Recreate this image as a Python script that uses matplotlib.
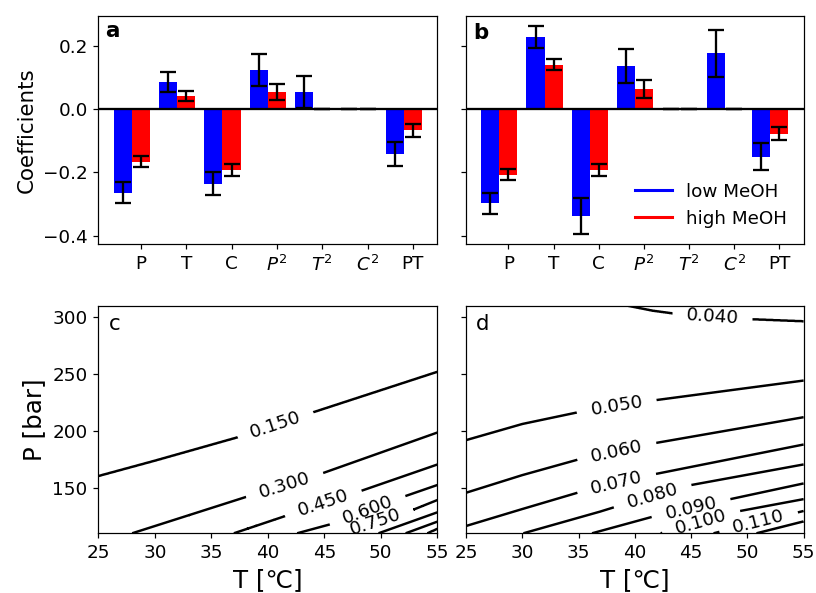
import numpy as np
import matplotlib
matplotlib.use('Agg')
import matplotlib.pyplot as plt
from matplotlib.lines import Line2D

# ---------------- bar chart data ----------------
terms = ['P', 'T', 'C', '$P^2$', '$T^2$', '$C^2$', 'PT']

a_low = [-0.264, 0.085, -0.236, 0.123, 0.054, 0.0, -0.141]
a_low_err = [0.032, 0.032, 0.037, 0.051, 0.050, 0.0, 0.038]
a_high = [-0.166, 0.041, -0.193, 0.054, 0.0, 0.0, -0.068]
a_high_err = [0.016, 0.016, 0.018, 0.026, 0.0, 0.0, 0.019]

b_low = [-0.298, 0.227, -0.337, 0.136, 0.0, 0.175, -0.151]
b_low_err = [0.034, 0.034, 0.057, 0.054, 0.0, 0.074, 0.042]
b_high = [-0.207, 0.139, -0.193, 0.063, 0.0, 0.0, -0.078]
b_high_err = [0.017, 0.017, 0.018, 0.027, 0.0, 0.0, 0.020]

series_labels = ['low MeOH', 'high MeOH']

# ---------------- contour data (level lines) ----------------
# each level: temperatures [degC] and pressures [bar] along the line
c_levels = [0.15, 0.30, 0.45, 0.60, 0.75, 0.90, 1.05, 1.20]
c_T = [
    [25, 30, 37.2, 44, 55],
    [25, 28, 38.1, 44.8, 55],
    [25, 37, 41.8, 48.3, 55],
    [25, 42.6, 45.5, 52, 55],
    [25, 46.5, 52.8, 55],
    [25, 49.8, 55],
    [25, 52.2, 55],
    [25, 54.1, 55],
]
c_P = [
    [160.2, 173.7, 193.9, 216.2, 251.8],
    [100, 110, 142, 162.6, 198.5],
    [70, 110, 126, 147.4, 170.4],
    [55, 110, 117.8, 142.1, 152.4],
    [40, 110, 130.4, 139.2],
    [25, 110, 128.4],
    [10, 110, 120.2],
    [-10, 110, 114],
]

d_levels = [0.04, 0.05, 0.06, 0.07, 0.08, 0.09, 0.10, 0.11, 0.12]
d_T = [
    [25, 35, 39.3, 41.6, 44, 50.4, 55],
    [25, 30, 34.8, 41.8, 55],
    [25, 30, 35, 41.6, 55],
    [25, 30, 35, 41.8, 55],
    [25, 30.1, 36.9, 38.3, 45, 55],
    [25, 36.2, 41.6, 48.4, 55],
    [25, 42.3, 49.3, 55],
    [25, 47.0, 55],
    [25, 50.8, 55],
]
d_P = [
    [380, 325, 310, 305.5, 302.3, 298, 296.2],
    [191.8, 206.0, 216, 226.9, 244.2],
    [145.6, 161.1, 174.9, 188.9, 212],
    [116.4, 131.3, 145.9, 162, 188],
    [95, 110, 129, 133.3, 152.4, 170.5],
    [80, 110, 124.6, 139.8, 153.8],
    [62, 110, 129.5, 140],
    [50, 110, 129.6],
    [40, 110, 120.5],
]


def build_field(levels, Ts, Ps, Tg, Pg):
    lv = np.asarray(levels, dtype=float)
    step = lv[1] - lv[0]
    cross = np.array([np.interp(Tg, t, p) for t, p in zip(Ts, Ps)])
    Z = np.empty((len(Pg), len(Tg)))
    for j in range(len(Tg)):
        pc = cross[:, j]
        order = np.argsort(pc)
        xp = np.concatenate([[-2000.0], pc[order], [2000.0]])
        fp = np.concatenate([[lv.max() + step * 20], lv[order], [lv.min() - step]])
        Z[:, j] = np.interp(Pg, xp, fp)
    return Z


T_grid = np.linspace(25, 55, 601)
P_grid = np.linspace(110, 310, 801)
Zc = build_field(c_levels, c_T, c_P, T_grid, P_grid)
Zd = build_field(d_levels, d_T, d_P, T_grid, P_grid)

# ---------------- figure ----------------
DPI = 110
fig = plt.figure(figsize=(816 / DPI, 593 / DPI), dpi=DPI)

ax_a = fig.add_axes([0.1205, 0.588, 0.4154, 0.3855])
ax_b = fig.add_axes([0.5711, 0.588, 0.4137, 0.3855], sharey=ax_a)
ax_c = fig.add_axes([0.1205, 0.1007, 0.4154, 0.3838])
ax_d = fig.add_axes([0.5711, 0.1007, 0.4137, 0.3838], sharey=ax_c)

blue = '#0000ff'
red = '#ff0000'
w = 0.4
x = np.arange(len(terms))


def bar_panel(ax, low, low_err, high, high_err):
    ax.bar(x - w, low, width=w, color=blue)
    ax.errorbar(x - w, low, yerr=low_err, fmt='none', ecolor='k',
                elinewidth=1.5, capsize=5, capthick=1.5)
    ax.bar(x, high, width=w, color=red)
    ax.errorbar(x, high, yerr=high_err, fmt='none', ecolor='k',
                elinewidth=1.5, capsize=5, capthick=1.5)
    ax.axhline(0, color='k', lw=1.5)
    ax.set_xticks(x)
    ax.set_xticklabels(terms)
    ax.tick_params(labelsize=12)


bar_panel(ax_a, a_low, a_low_err, a_high, a_high_err)
bar_panel(ax_b, b_low, b_low_err, b_high, b_high_err)
ax_a.set_ylim(-0.427, 0.294)
ax_a.set_yticks([-0.4, -0.2, 0.0, 0.2])
ax_a.set_ylabel('Coefficients', fontsize=14)
plt.setp(ax_b.get_yticklabels(), visible=False)

handles = [Line2D([0], [0], color=blue, lw=2), Line2D([0], [0], color=red, lw=2)]
ax_b.legend(handles, series_labels, loc='lower right', frameon=False, fontsize=12)

ax_a.text(0.02, 0.907, 'a', transform=ax_a.transAxes, fontsize=14,
          fontweight='bold', va='baseline')
ax_b.text(0.02, 0.9, 'b', transform=ax_b.transAxes, fontsize=14,
          fontweight='bold', va='baseline')

# contours
c_label_pos = [(40.7, 205), (41.5, 152), (44.9, 136.5), (48.8, 131), (49.5, 120)]
d_label_pos = [(46.9, 299), (38.4, 221.0), (38.4, 182), (38.4, 153.5),
               (41.6, 142), (45.0, 132), (45.9, 120), (51.0, 120)]

cs_c = ax_c.contour(T_grid, P_grid, Zc, levels=c_levels, colors='k', linewidths=1.6)
ax_c.clabel(cs_c, fmt='%1.3f', fontsize=12, manual=c_label_pos, inline=True,
            inline_spacing=14)
cs_d = ax_d.contour(T_grid, P_grid, Zd, levels=d_levels, colors='k', linewidths=1.6)
ax_d.clabel(cs_d, fmt='%1.3f', fontsize=12, manual=d_label_pos, inline=True,
            inline_spacing=14)

for ax in (ax_c, ax_d):
    ax.set_xlim(25, 55)
    ax.set_xticks([25, 30, 35, 40, 45, 50, 55])
    ax.set_xlabel('T [\u2103]', fontsize=16)
    ax.tick_params(labelsize=12)
ax_c.set_ylim(110, 310)
ax_c.set_yticks([150, 200, 250, 300])
ax_c.set_ylabel('P [bar]', fontsize=16)
plt.setp(ax_d.get_yticklabels(), visible=False)

ax_c.text(0.03, 0.893, 'c', transform=ax_c.transAxes, fontsize=14, va='baseline')
ax_d.text(0.03, 0.893, 'd', transform=ax_d.transAxes, fontsize=14, va='baseline')

fig.savefig('out.png', dpi=DPI)
